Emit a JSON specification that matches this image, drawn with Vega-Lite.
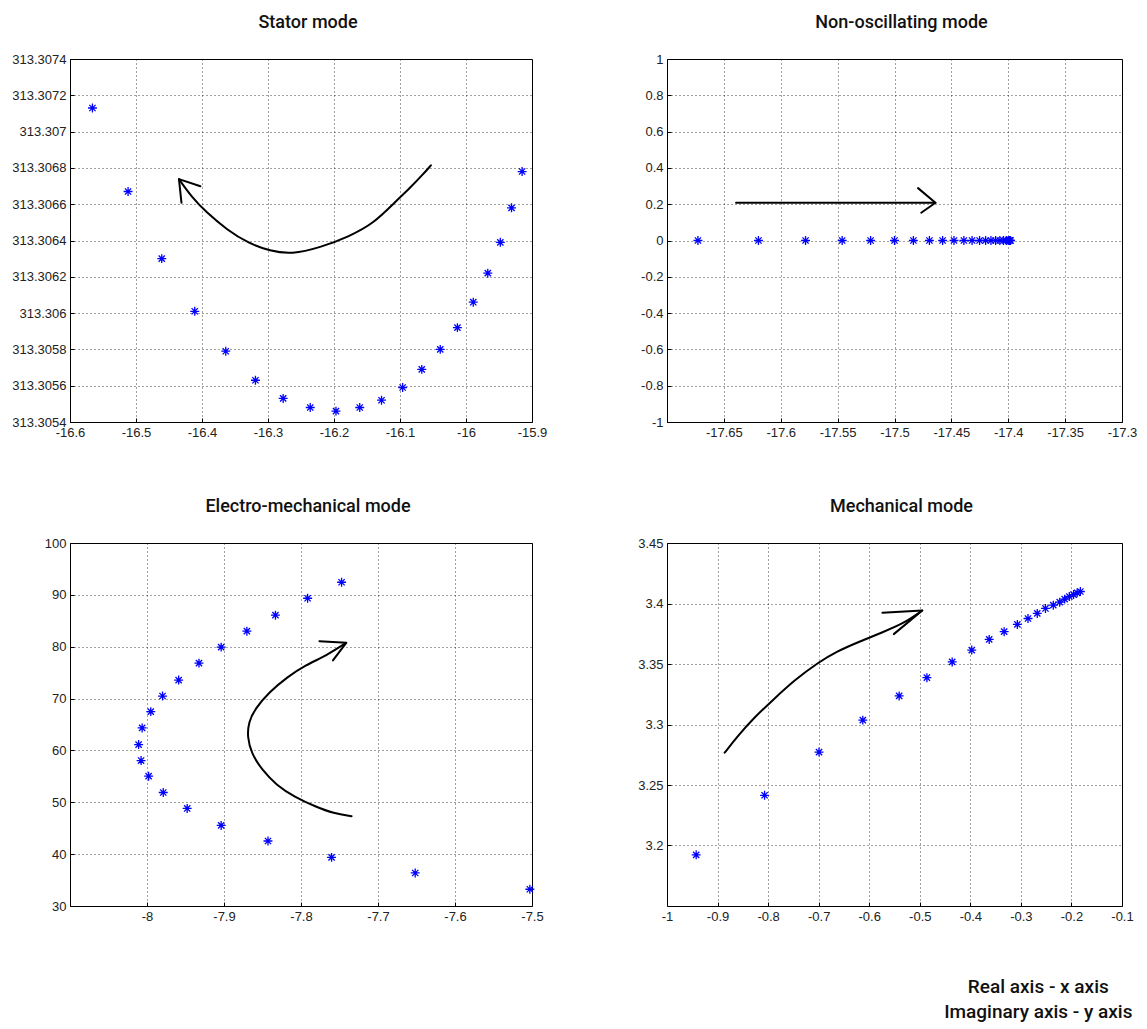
{
  "$schema": "https://vega.github.io/schema/vega-lite/v6.json",
  "padding": {"left": 11, "top": 13, "right": 5, "bottom": 5},
  "bounds": "flush",
  "columns": 2,
  "spacing": {"row": 121, "column": 135},
  "title": {
    "text": ["Real axis - x axis", "Imaginary axis - y axis"],
    "orient": "bottom",
    "anchor": "end",
    "align": "center",
    "dx": -99,
    "offset": 54,
    "fontSize": 19,
    "lineHeight": 25
  },
  "datasets": {
    "stator": [
      {"re": -16.566, "im": 313.30713}, {"re": -16.512, "im": 313.30667}, {"re": -16.461, "im": 313.3063},
      {"re": -16.411, "im": 313.30601}, {"re": -16.364, "im": 313.30579}, {"re": -16.319, "im": 313.30563},
      {"re": -16.277, "im": 313.30553}, {"re": -16.236, "im": 313.30548}, {"re": -16.197, "im": 313.30546},
      {"re": -16.161, "im": 313.30548}, {"re": -16.128, "im": 313.30552}, {"re": -16.096, "im": 313.30559},
      {"re": -16.067, "im": 313.30569}, {"re": -16.039, "im": 313.3058}, {"re": -16.013, "im": 313.30592},
      {"re": -15.989, "im": 313.30606}, {"re": -15.967, "im": 313.30622}, {"re": -15.948, "im": 313.30639},
      {"re": -15.931, "im": 313.30658}, {"re": -15.915, "im": 313.30678}
    ],
    "statorArrow": [
      {"part": "curve", "i": 0, "re": -16.0532, "im": 313.306814},
      {"part": "curve", "i": 1, "re": -16.064, "im": 313.306769},
      {"part": "curve", "i": 2, "re": -16.0857, "im": 313.306686},
      {"part": "curve", "i": 3, "re": -16.1073, "im": 313.306613},
      {"part": "curve", "i": 4, "re": -16.1398, "im": 313.306494},
      {"part": "curve", "i": 5, "re": -16.1777, "im": 313.306421},
      {"part": "curve", "i": 6, "re": -16.221, "im": 313.306361},
      {"part": "curve", "i": 7, "re": -16.2643, "im": 313.306324},
      {"part": "curve", "i": 8, "re": -16.2968, "im": 313.306342},
      {"part": "curve", "i": 9, "re": -16.3293, "im": 313.306384},
      {"part": "curve", "i": 10, "re": -16.3618, "im": 313.306458},
      {"part": "curve", "i": 11, "re": -16.3943, "im": 313.306558},
      {"part": "curve", "i": 12, "re": -16.4159, "im": 313.306641},
      {"part": "curve", "i": 13, "re": -16.4349, "im": 313.306738},
      {"part": "head", "i": 0, "re": -16.4024, "im": 313.306699},
      {"part": "head", "i": 1, "re": -16.4349, "im": 313.306738},
      {"part": "head", "i": 2, "re": -16.4311, "im": 313.306608}
    ],
    "nonosc": [
      {"re": -17.6728, "im": 0}, {"re": -17.6196, "im": 0}, {"re": -17.5782, "im": 0}, {"re": -17.546, "im": 0},
      {"re": -17.521, "im": 0}, {"re": -17.5, "im": 0}, {"re": -17.4834, "im": 0}, {"re": -17.4693, "im": 0},
      {"re": -17.4577, "im": 0}, {"re": -17.4477, "im": 0}, {"re": -17.439, "im": 0}, {"re": -17.4318, "im": 0},
      {"re": -17.4252, "im": 0}, {"re": -17.4199, "im": 0}, {"re": -17.4152, "im": 0}, {"re": -17.4111, "im": 0},
      {"re": -17.4074, "im": 0}, {"re": -17.4042, "im": 0}, {"re": -17.4017, "im": 0}, {"re": -17.4, "im": 0},
      {"re": -17.399, "im": 0}, {"re": -17.3984, "im": 0}, {"re": -17.398, "im": 0}
    ],
    "nonoscArrow": [
      {"part": "curve", "i": 0, "re": -17.6393, "im": 0.208},
      {"part": "curve", "i": 1, "re": -17.464, "im": 0.208},
      {"part": "head", "i": 0, "re": -17.4793, "im": 0.2886},
      {"part": "head", "i": 1, "re": -17.464, "im": 0.208},
      {"part": "head", "i": 2, "re": -17.4765, "im": 0.153}
    ],
    "electro": [
      {"re": -7.7473, "im": 92.43}, {"re": -7.7914, "im": 89.35}, {"re": -7.8332, "im": 86.08},
      {"re": -7.8703, "im": 83.0}, {"re": -7.9037, "im": 79.92}, {"re": -7.9325, "im": 76.84},
      {"re": -7.9589, "im": 73.57}, {"re": -7.9798, "im": 70.49}, {"re": -7.9951, "im": 67.48},
      {"re": -8.0063, "im": 64.34}, {"re": -8.0109, "im": 61.13}, {"re": -8.0077, "im": 58.05},
      {"re": -7.9979, "im": 55.03}, {"re": -7.9789, "im": 51.89}, {"re": -7.9478, "im": 48.81},
      {"re": -7.9037, "im": 45.54}, {"re": -7.8429, "im": 42.53}, {"re": -7.7603, "im": 39.38},
      {"re": -7.6517, "im": 36.37}, {"re": -7.5028, "im": 33.23}
    ],
    "electroArrow": [
      {"part": "curve", "i": 0, "re": -7.7343, "im": 47.32},
      {"part": "curve", "i": 1, "re": -7.7575, "im": 47.84},
      {"part": "curve", "i": 2, "re": -7.7807, "im": 49.12},
      {"part": "curve", "i": 3, "re": -7.8086, "im": 51.05},
      {"part": "curve", "i": 4, "re": -7.8318, "im": 53.29},
      {"part": "curve", "i": 5, "re": -7.8503, "im": 56.18},
      {"part": "curve", "i": 6, "re": -7.8643, "im": 59.39},
      {"part": "curve", "i": 7, "re": -7.8698, "im": 62.59},
      {"part": "curve", "i": 8, "re": -7.868, "im": 65.48},
      {"part": "curve", "i": 9, "re": -7.8596, "im": 68.05},
      {"part": "curve", "i": 10, "re": -7.8411, "im": 71.26},
      {"part": "curve", "i": 11, "re": -7.8179, "im": 74.14},
      {"part": "curve", "i": 12, "re": -7.7947, "im": 76.39},
      {"part": "curve", "i": 13, "re": -7.7668, "im": 78.31},
      {"part": "curve", "i": 14, "re": -7.7413, "im": 80.75},
      {"part": "head", "i": 0, "re": -7.7761, "im": 81.07},
      {"part": "head", "i": 1, "re": -7.7413, "im": 80.75},
      {"part": "head", "i": 2, "re": -7.7585, "im": 77.35}
    ],
    "mech": [
      {"re": -0.9423, "im": 3.1923}, {"re": -0.807, "im": 3.2415}, {"re": -0.6993, "im": 3.2772},
      {"re": -0.6127, "im": 3.3036}, {"re": -0.5408, "im": 3.3236}, {"re": -0.4859, "im": 3.3387},
      {"re": -0.4359, "im": 3.3517}, {"re": -0.3972, "im": 3.3615}, {"re": -0.3627, "im": 3.3703},
      {"re": -0.3331, "im": 3.3767}, {"re": -0.307, "im": 3.3827}, {"re": -0.2859, "im": 3.3876},
      {"re": -0.2676, "im": 3.3918}, {"re": -0.2514, "im": 3.3959}, {"re": -0.2359, "im": 3.3986},
      {"re": -0.2232, "im": 3.4011}, {"re": -0.2134, "im": 3.4036}, {"re": -0.2042, "im": 3.4058},
      {"re": -0.1958, "im": 3.4074}, {"re": -0.1887, "im": 3.4088}, {"re": -0.1824, "im": 3.4099}
    ],
    "mechArrow": [
      {"part": "curve", "i": 0, "re": -0.8859, "im": 3.2767},
      {"part": "curve", "i": 1, "re": -0.8613, "im": 3.2898},
      {"part": "curve", "i": 2, "re": -0.8296, "im": 3.3049},
      {"part": "curve", "i": 3, "re": -0.7908, "im": 3.3201},
      {"part": "curve", "i": 4, "re": -0.7486, "im": 3.3365},
      {"part": "curve", "i": 5, "re": -0.6993, "im": 3.3517},
      {"part": "curve", "i": 6, "re": -0.6641, "im": 3.3604},
      {"part": "curve", "i": 7, "re": -0.6218, "im": 3.3681},
      {"part": "curve", "i": 8, "re": -0.5725, "im": 3.3764},
      {"part": "curve", "i": 9, "re": -0.5303, "im": 3.3838},
      {"part": "curve", "i": 10, "re": -0.4951, "im": 3.3942},
      {"part": "head", "i": 0, "re": -0.5739, "im": 3.3923},
      {"part": "head", "i": 1, "re": -0.4951, "im": 3.3942},
      {"part": "head", "i": 2, "re": -0.5514, "im": 3.3747}
    ]
  },
  "concat": [
    {
      "title": "Stator mode",
      "width": 462,
      "height": 363,
      "layer": [
        {
          "data": {"name": "stator"},
          "mark": {"type": "point"},
          "encoding": {
            "x": {"field": "re", "type": "quantitative", "title": null,
                  "scale": {"domain": [-16.6, -15.9], "nice": false, "zero": false},
                  "axis": {"values": [-16.6, -16.5, -16.4, -16.3, -16.2, -16.1, -16.0, -15.9], "format": ".1~f"}},
            "y": {"field": "im", "type": "quantitative", "title": null,
                  "scale": {"domain": [313.3054, 313.3074], "nice": false, "zero": false},
                  "axis": {"values": [313.3054, 313.3056, 313.3058, 313.306, 313.3062, 313.3064, 313.3066, 313.3068, 313.307, 313.3072, 313.3074], "format": ".4~f"}}
          }
        },
        {
          "data": {"name": "statorArrow"},
          "transform": [{"filter": "datum.part == 'curve'"}],
          "mark": {"type": "line", "interpolate": "basis"},
          "encoding": {"x": {"field": "re", "type": "quantitative"}, "y": {"field": "im", "type": "quantitative"}, "order": {"field": "i"}}
        },
        {
          "data": {"name": "statorArrow"},
          "transform": [{"filter": "datum.part == 'head'"}],
          "mark": {"type": "line"},
          "encoding": {"x": {"field": "re", "type": "quantitative"}, "y": {"field": "im", "type": "quantitative"}, "order": {"field": "i"}}
        }
      ]
    },
    {
      "title": "Non-oscillating mode",
      "width": 455,
      "height": 363,
      "layer": [
        {
          "data": {"name": "nonosc"},
          "mark": {"type": "point"},
          "encoding": {
            "x": {"field": "re", "type": "quantitative", "title": null,
                  "scale": {"domain": [-17.7, -17.3], "nice": false, "zero": false},
                  "axis": {"values": [-17.65, -17.6, -17.55, -17.5, -17.45, -17.4, -17.35, -17.3], "format": ".2~f"}},
            "y": {"field": "im", "type": "quantitative", "title": null,
                  "scale": {"domain": [-1, 1], "nice": false, "zero": false},
                  "axis": {"values": [-1, -0.8, -0.6, -0.4, -0.2, 0, 0.2, 0.4, 0.6, 0.8, 1], "format": ".1~f"}}
          }
        },
        {
          "data": {"name": "nonoscArrow"},
          "transform": [{"filter": "datum.part == 'curve'"}],
          "mark": {"type": "line"},
          "encoding": {"x": {"field": "re", "type": "quantitative"}, "y": {"field": "im", "type": "quantitative"}, "order": {"field": "i"}}
        },
        {
          "data": {"name": "nonoscArrow"},
          "transform": [{"filter": "datum.part == 'head'"}],
          "mark": {"type": "line"},
          "encoding": {"x": {"field": "re", "type": "quantitative"}, "y": {"field": "im", "type": "quantitative"}, "order": {"field": "i"}}
        }
      ]
    },
    {
      "title": "Electro-mechanical mode",
      "width": 462,
      "height": 363,
      "layer": [
        {
          "data": {"name": "electro"},
          "mark": {"type": "point"},
          "encoding": {
            "x": {"field": "re", "type": "quantitative", "title": null,
                  "scale": {"domain": [-8.1, -7.5], "nice": false, "zero": false},
                  "axis": {"values": [-8.0, -7.9, -7.8, -7.7, -7.6, -7.5], "format": ".1~f"}},
            "y": {"field": "im", "type": "quantitative", "title": null,
                  "scale": {"domain": [30, 100], "nice": false, "zero": false},
                  "axis": {"values": [30, 40, 50, 60, 70, 80, 90, 100], "format": "d"}}
          }
        },
        {
          "data": {"name": "electroArrow"},
          "transform": [{"filter": "datum.part == 'curve'"}],
          "mark": {"type": "line", "interpolate": "basis"},
          "encoding": {"x": {"field": "re", "type": "quantitative"}, "y": {"field": "im", "type": "quantitative"}, "order": {"field": "i"}}
        },
        {
          "data": {"name": "electroArrow"},
          "transform": [{"filter": "datum.part == 'head'"}],
          "mark": {"type": "line"},
          "encoding": {"x": {"field": "re", "type": "quantitative"}, "y": {"field": "im", "type": "quantitative"}, "order": {"field": "i"}}
        }
      ]
    },
    {
      "title": "Mechanical mode",
      "width": 455,
      "height": 363,
      "layer": [
        {
          "data": {"name": "mech"},
          "mark": {"type": "point"},
          "encoding": {
            "x": {"field": "re", "type": "quantitative", "title": null,
                  "scale": {"domain": [-1, -0.1], "nice": false, "zero": false},
                  "axis": {"values": [-1, -0.9, -0.8, -0.7, -0.6, -0.5, -0.4, -0.3, -0.2, -0.1], "format": ".1~f"}},
            "y": {"field": "im", "type": "quantitative", "title": null,
                  "scale": {"domain": [3.15, 3.45], "nice": false, "zero": false},
                  "axis": {"values": [3.2, 3.25, 3.3, 3.35, 3.4, 3.45], "format": ".2~f"}}
          }
        },
        {
          "data": {"name": "mechArrow"},
          "transform": [{"filter": "datum.part == 'curve'"}],
          "mark": {"type": "line", "interpolate": "basis"},
          "encoding": {"x": {"field": "re", "type": "quantitative"}, "y": {"field": "im", "type": "quantitative"}, "order": {"field": "i"}}
        },
        {
          "data": {"name": "mechArrow"},
          "transform": [{"filter": "datum.part == 'head'"}],
          "mark": {"type": "line"},
          "encoding": {"x": {"field": "re", "type": "quantitative"}, "y": {"field": "im", "type": "quantitative"}, "order": {"field": "i"}}
        }
      ]
    }
  ],
  "config": {
    "locale": {"number": {"decimal": ".", "thousands": ",", "grouping": [3], "currency": ["$", ""], "minus": "-"}},
    "background": "white",
    "view": {"stroke": "#000", "strokeWidth": 1},
    "axis": {
      "grid": true, "gridColor": "#000", "gridDash": [1, 3], "gridOpacity": 0.75, "gridWidth": 1,
      "domain": false, "ticks": true, "tickSize": -4, "tickColor": "#000", "tickWidth": 1,
      "labelPadding": 8, "tickCount": 30,
      "labelFont": "Liberation Sans, Arial, sans-serif", "labelFontSize": 13, "labelColor": "#222",
      "labelOverlap": false, "labelFlush": false
    },
    "title": {
      "font": "Roboto, sans-serif",
      "fontSize": 18, "fontWeight": 500, "color": "#111", "offset": 21, "dx": 7
    },
    "point": {
      "shape": "M-1,0H1M0,-1V1M-0.7,-0.7L0.7,0.7M-0.7,0.7L0.7,-0.7",
      "filled": false, "stroke": "#0000ff", "strokeWidth": 1.3, "size": 80, "opacity": 1
    },
    "line": {"stroke": "#000", "strokeWidth": 2, "strokeCap": "round", "strokeJoin": "round"}
  }
}
